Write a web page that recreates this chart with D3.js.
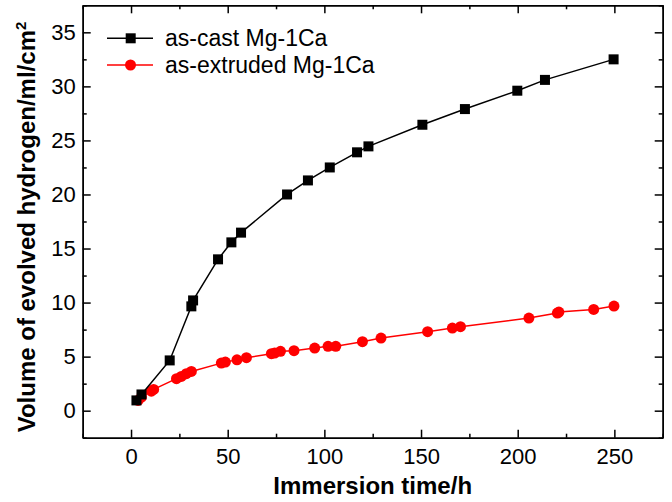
<!DOCTYPE html>
<html lang="en">
<head>
<meta charset="UTF-8">
<title>Hydrogen evolution Mg-1Ca</title>
<script src="https://d3js.org/d3.v7.min.js"></script>
<style>
    body { margin: 0; padding: 0; background: #ffffff; }
    svg { display: block; font-family: Arial, "Liberation Sans", sans-serif; }
</style>
</head>
<body>
<div id="vis"></div>
<script>
    // as-cast Mg-1Ca (black squares)
    const castTime = [2.8, 5.4, 20, 31.2, 32.1, 45, 51.9, 56.9, 80.7, 91.5, 102.8, 116.9, 122.8, 150.7, 172.7, 199.8, 214.1, 249.6];
    const castVol  = [0.95, 1.5, 4.65, 9.65, 10.2, 14.0, 15.57, 16.47, 20.0, 21.3, 22.5, 23.9, 24.45, 26.45, 27.9, 29.6, 30.6, 32.5];

    // as-extruded Mg-1Ca (red circles)
    const extTime = [3.6, 5.4, 10.5, 11.7, 23.5, 26, 28.6, 31.2, 46.7, 48.8, 54.8, 59.7, 72.6, 74.3, 77.3, 84.3, 95, 101.9, 105.9, 119.7, 129.3, 153.4, 166.2, 170.4, 205.8, 220.5, 221.3, 239.3, 249.8];
    const extVol  = [0.95, 1.26, 1.8, 1.97, 2.96, 3.17, 3.42, 3.63, 4.4, 4.5, 4.7, 4.9, 5.27, 5.33, 5.49, 5.55, 5.79, 5.95, 5.95, 6.38, 6.72, 7.31, 7.64, 7.77, 8.57, 9.03, 9.12, 9.37, 9.68];

    const seriesNames = ["as-cast Mg-1Ca", "as-extruded Mg-1Ca"];
    const xMajor = [0, 50, 100, 150, 200, 250];
    const yMajor = [0, 5, 10, 15, 20, 25, 30, 35];
    const xLabel = "Immersion time/h";

    const width = 672, height = 502;
    const margin = {left: 82.7, right: 9.3, top: 5.3, bottom: 64.3};

    const svg = d3.select("#vis").append("svg")
        .attr("width", width)
        .attr("height", height);

    const x = d3.scaleLinear().domain([-25, 275]).range([margin.left, width - margin.right]);
    const y = d3.scaleLinear().domain([-2.5, 37.5]).range([height - margin.bottom, margin.top]);

    const xMinor = d3.range(-25, 276, 25).filter(v => !xMajor.includes(v));
    const yMinor = d3.range(-2.5, 37.6, 2.5).filter(v => !yMajor.includes(v));

    const bottomY = height - margin.bottom;
    const rightX = width - margin.right;

    // axes, ticks pointing in
    function drawAxis(axisFn, pos, values, size, labels) {
        const g = svg.append("g").attr("transform", pos);
        g.call(axisFn.tickValues(values).tickSizeInner(-size).tickSizeOuter(0)
            .tickFormat(labels ? d3.format("d") : ""));
        g.selectAll("path, line").attr("stroke", "#000").attr("stroke-width", 1.5);
        return g;
    }

    const xb = drawAxis(d3.axisBottom(x).tickPadding(11), `translate(0,${bottomY})`, xMajor, 8, true);
    drawAxis(d3.axisBottom(x), `translate(0,${bottomY})`, xMinor, 4, false);
    drawAxis(d3.axisTop(x), `translate(0,${margin.top})`, xMajor, 8, false);
    drawAxis(d3.axisTop(x), `translate(0,${margin.top})`, xMinor, 4, false);
    const yl = drawAxis(d3.axisLeft(y).tickPadding(7), `translate(${margin.left},0)`, yMajor, 8, true);
    drawAxis(d3.axisLeft(y), `translate(${margin.left},0)`, yMinor, 4, false);
    drawAxis(d3.axisRight(y), `translate(${rightX},0)`, yMajor, 8, false);
    drawAxis(d3.axisRight(y), `translate(${rightX},0)`, yMinor, 4, false);

    xb.selectAll("text").attr("font-size", 22).attr("fill", "#000").attr("font-family", null);
    yl.selectAll("text").attr("font-size", 22).attr("fill", "#000").attr("font-family", null);

    // data
    const cast = castTime.map((t, i) => ({t: t, v: castVol[i]}));
    const ext = extTime.map((t, i) => ({t: t, v: extVol[i]}));
    const line = d3.line().x(d => x(d.t)).y(d => y(d.v));

    svg.append("path").datum(ext)
        .attr("d", line).attr("fill", "none")
        .attr("stroke", "#ff0000").attr("stroke-width", 1.5);
    svg.selectAll("circle.ext").data(ext).enter().append("circle")
        .attr("class", "ext")
        .attr("cx", d => x(d.t)).attr("cy", d => y(d.v))
        .attr("r", 5.5).attr("fill", "#ff0000");

    svg.append("path").datum(cast)
        .attr("d", line).attr("fill", "none")
        .attr("stroke", "#000").attr("stroke-width", 1.5);
    svg.selectAll("rect.cast").data(cast).enter().append("rect")
        .attr("class", "cast")
        .attr("x", d => x(d.t) - 5).attr("y", d => y(d.v) - 5)
        .attr("width", 10).attr("height", 10).attr("fill", "#000");

    // legend
    const legend = svg.append("g");
    const legY = [38.3, 65];
    const legColor = ["#000", "#ff0000"];
    seriesNames.forEach((name, i) => {
        legend.append("line")
            .attr("x1", 107).attr("x2", 153)
            .attr("y1", legY[i]).attr("y2", legY[i])
            .attr("stroke", legColor[i]).attr("stroke-width", 1.5);
        if (i === 0) {
            legend.append("rect").attr("x", 125.7).attr("y", legY[i] - 5)
                .attr("width", 10).attr("height", 10).attr("fill", "#000");
        } else {
            legend.append("circle").attr("cx", 130.5).attr("cy", legY[i])
                .attr("r", 5.5).attr("fill", "#ff0000");
        }
        legend.append("text")
            .attr("x", 165).attr("y", legY[i] + 8)
            .attr("font-size", 23).attr("fill", "#000")
            .text(name);
    });

    // axis titles
    svg.append("text")
        .attr("x", (margin.left + rightX) / 2).attr("y", 494)
        .attr("text-anchor", "middle")
        .attr("font-size", 24).attr("font-weight", "bold")
        .text(xLabel);

    const yt = svg.append("text")
        .attr("transform", "translate(35,227) rotate(-90)")
        .attr("text-anchor", "middle")
        .attr("font-size", 24).attr("font-weight", "bold");
    yt.append("tspan").text("Volume of evolved hydrogen/ml/cm");
    yt.append("tspan").attr("font-size", 15).attr("dy", -9).text("2");
</script>
</body>
</html>
